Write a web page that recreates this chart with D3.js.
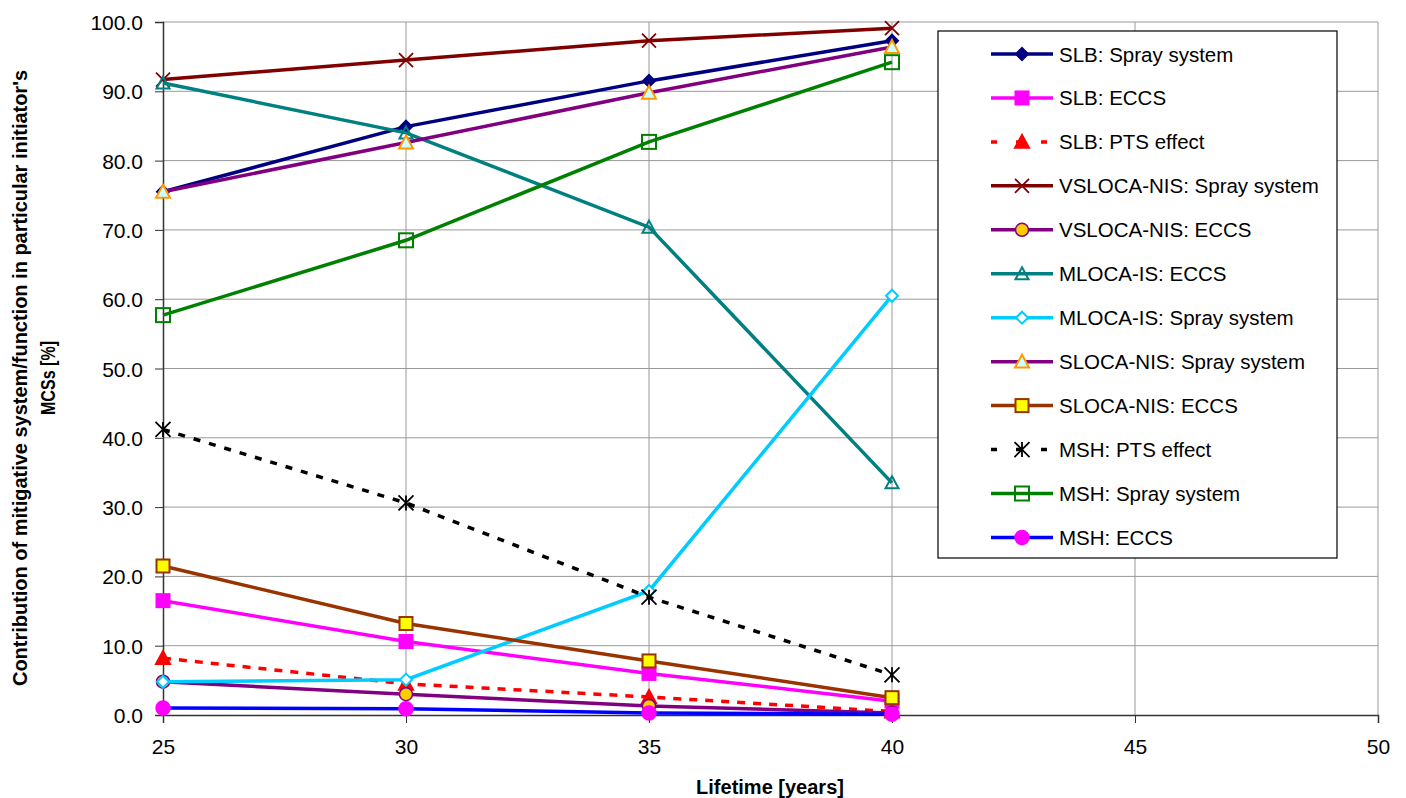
<!DOCTYPE html>
<html>
<head>
<meta charset="utf-8">
<script src="https://cdn.jsdelivr.net/npm/d3@7"></script>
<style>
  body { margin: 0; background: #fff; }
  svg { font-family: "Liberation Sans", Arial, sans-serif; }
</style>
</head>
<body>
<div id="chart"></div>
<script>
const years = [25, 30, 35, 40];
const xTicks = [25, 30, 35, 40, 45, 50];
const yTicks = [0, 10, 20, 30, 40, 50, 60, 70, 80, 90, 100];

const slbSpray = [75.5, 84.9, 91.5, 97.3];
const slbEccs = [16.5, 10.6, 6.0, 2.0];
const slbPts = [8.2, 4.5, 2.6, 0.5];
const vslocaSpray = [91.7, 94.5, 97.3, 99.1];
const vslocaEccs = [4.8, 3.0, 1.3, 0.3];
const mlocaEccs = [91.2, 84.0, 70.4, 33.5];
const mlocaSpray = [4.8, 5.1, 17.9, 60.5];
const slocaSpray = [75.5, 82.6, 89.8, 96.4];
const slocaEccs = [21.5, 13.2, 7.8, 2.5];
const mshPts = [41.2, 30.6, 17.0, 5.8];
const mshSpray = [57.7, 68.5, 82.7, 94.2];
const mshEccs = [1.0, 0.9, 0.3, 0.1];

const series = [
  { name: 'SLB: Spray system', values: slbSpray, color: '#000080', marker: 'diamond', fill: '#000080', stroke: '#000080', size: 12 },
  { name: 'SLB: ECCS', values: slbEccs, color: '#FF00FF', marker: 'square', fill: '#FF00FF', stroke: '#FF00FF', size: 13 },
  { name: 'SLB: PTS effect', values: slbPts, color: '#FF0000', dash: '8,8', marker: 'triangle', fill: '#FF0000', stroke: '#FF0000', size: 14 },
  { name: 'VSLOCA-NIS: Spray system', values: vslocaSpray, color: '#800000', marker: 'x', fill: 'none', stroke: '#800000', size: 14 },
  { name: 'VSLOCA-NIS: ECCS', values: vslocaEccs, color: '#800080', marker: 'circle', fill: '#FFCC00', stroke: '#800080', size: 13 },
  { name: 'MLOCA-IS: ECCS', values: mlocaEccs, color: '#008080', marker: 'triangle', fill: 'none', stroke: '#008080', size: 13 },
  { name: 'MLOCA-IS: Spray system', values: mlocaSpray, color: '#00CCFF', marker: 'diamond', fill: 'none', stroke: '#00CCFF', size: 12 },
  { name: 'SLOCA-NIS: Spray system', values: slocaSpray, color: '#800080', marker: 'triangle', fill: '#CCFFFF', stroke: '#FF9900', size: 14 },
  { name: 'SLOCA-NIS: ECCS', values: slocaEccs, color: '#993300', marker: 'square', fill: '#FFFF00', stroke: '#993300', size: 13 },
  { name: 'MSH: PTS effect', values: mshPts, color: '#000000', dash: '7,9', marker: 'asterisk', fill: 'none', stroke: '#000000', size: 15 },
  { name: 'MSH: Spray system', values: mshSpray, color: '#008000', marker: 'square', fill: 'none', stroke: '#008000', size: 14 },
  { name: 'MSH: ECCS', values: mshEccs, color: '#0000FF', marker: 'circle', fill: '#FF00FF', stroke: '#FF00FF', size: 14 }
];

const W = 1406, H = 798;
const margin = { top: 22, right: 28, bottom: 83, left: 163 };
const width = W - margin.left - margin.right;
const height = H - margin.top - margin.bottom;

const svg = d3.select('#chart').append('svg').attr('width', W).attr('height', H);
const g = svg.append('g').attr('transform', `translate(${margin.left},${margin.top})`);

const x = d3.scaleLinear().domain([25, 50]).range([0, width]);
const y = d3.scaleLinear().domain([0, 100]).range([height, 0]);

// grid
g.append('g').selectAll('line').data(yTicks.filter(d => d > 0)).enter().append('line')
  .attr('x1', 0).attr('x2', width).attr('y1', d => y(d)).attr('y2', d => y(d))
  .attr('stroke', '#999').attr('stroke-width', 1);
g.append('g').selectAll('line').data(xTicks.filter(d => d > 25)).enter().append('line')
  .attr('y1', 0).attr('y2', height).attr('x1', d => x(d)).attr('x2', d => x(d))
  .attr('stroke', '#999').attr('stroke-width', 1);

// axes
const yAxis = g.append('g')
  .call(d3.axisLeft(y).tickValues(yTicks).tickFormat(d3.format('.1f')).tickSize(8).tickPadding(12));
yAxis.select('.domain').attr('stroke', '#333').attr('stroke-width', 1.5);
yAxis.selectAll('.tick line').attr('stroke', '#333');
yAxis.selectAll('text').style('font-size', '21px').attr('fill', '#000').attr('dy', '0.36em');

const xAxis = g.append('g').attr('transform', `translate(0,${height})`)
  .call(d3.axisBottom(x).tickValues(xTicks).tickFormat(d3.format('d')).tickSize(8).tickPadding(16));
xAxis.select('.domain').attr('stroke', '#333').attr('stroke-width', 1.5);
xAxis.selectAll('.tick line').attr('stroke', '#333');
xAxis.selectAll('text').style('font-size', '21px').attr('fill', '#000');

// axis titles
svg.append('text')
  .attr('x', 770).attr('y', 794)
  .attr('text-anchor', 'middle')
  .style('font-size', '20px').style('font-weight', 'bold')
  .text('Lifetime [years]');

// narrow bold look: compress glyphs along the baseline
const yTitle = svg.append('g').attr('transform', 'translate(0,378) rotate(-90)');
yTitle.append('text')
  .attr('x', 0).attr('y', 27)
  .attr('text-anchor', 'middle')
  .attr('textLength', 616).attr('lengthAdjust', 'spacingAndGlyphs')
  .style('font-size', '21px').style('font-weight', 'bold')
  .text("Contribution of mitigative system/function in particular initiator's");
yTitle.append('text')
  .attr('x', 0).attr('y', 55)
  .attr('text-anchor', 'middle')
  .attr('textLength', 74).attr('lengthAdjust', 'spacingAndGlyphs')
  .style('font-size', '21px').style('font-weight', 'bold')
  .text('MCSs [%]');

function drawMarker(sel, s) {
  const r = s.size / 2;
  if (s.marker === 'diamond') {
    sel.append('path').attr('d', `M0,${-r}L${r},0L0,${r}L${-r},0Z`)
      .attr('fill', s.fill === 'none' ? '#fff' : s.fill).attr('stroke', s.stroke).attr('stroke-width', 2);
  } else if (s.marker === 'square') {
    sel.append('rect').attr('x', -r).attr('y', -r).attr('width', s.size).attr('height', s.size)
      .attr('fill', s.fill === 'none' ? 'rgba(255,255,255,0)' : s.fill).attr('stroke', s.stroke).attr('stroke-width', 2);
  } else if (s.marker === 'triangle') {
    sel.append('path').attr('d', `M0,${-r}L${r},${r * 0.85}L${-r},${r * 0.85}Z`)
      .attr('fill', s.fill === 'none' ? 'rgba(255,255,255,0)' : s.fill).attr('stroke', s.stroke).attr('stroke-width', 2);
  } else if (s.marker === 'circle') {
    sel.append('circle').attr('r', r)
      .attr('fill', s.fill).attr('stroke', s.stroke).attr('stroke-width', 1.5);
  } else if (s.marker === 'x') {
    sel.append('path').attr('d', `M${-r},${-r}L${r},${r}M${-r},${r}L${r},${-r}`)
      .attr('stroke', s.stroke).attr('stroke-width', 1.8);
  } else if (s.marker === 'asterisk') {
    sel.append('path').attr('d', `M${-r},${-r}L${r},${r}M${-r},${r}L${r},${-r}M0,${-r}L0,${r}`)
      .attr('stroke', s.stroke).attr('stroke-width', 1.8);
  }
}

const line = d3.line().x((d, i) => x(years[i])).y(d => y(d));

series.forEach(s => {
  const sg = g.append('g');
  sg.append('path').datum(s.values)
    .attr('d', line)
    .attr('fill', 'none')
    .attr('stroke', s.color)
    .attr('stroke-width', 3.5)
    .attr('stroke-dasharray', s.dash || null);
  s.values.forEach((v, i) => {
    const m = sg.append('g').attr('transform', `translate(${x(years[i])},${y(v)})`);
    drawMarker(m, s);
  });
});

// legend
const lg = svg.append('g').attr('transform', 'translate(938,31)');
lg.append('rect').attr('x', 0).attr('y', 0).attr('width', 399).attr('height', 527)
  .attr('fill', '#fff').attr('stroke', '#000').attr('stroke-width', 1.2);
series.forEach((s, i) => {
  const cy = 23 + i * 43.95;
  const row = lg.append('g').attr('transform', `translate(0,${cy})`);
  row.append('line').attr('x1', 53).attr('x2', 115).attr('y1', 0).attr('y2', 0)
    .attr('stroke', s.color).attr('stroke-width', 3.5)
    .attr('stroke-dasharray', s.dash ? '6,19' : null);
  const m = row.append('g').attr('transform', 'translate(84,0)');
  drawMarker(m, s);
  row.append('text').attr('x', 121).attr('y', 7.5)
    .style('font-size', '20.5px').text(s.name);
});
</script>
</body>
</html>
